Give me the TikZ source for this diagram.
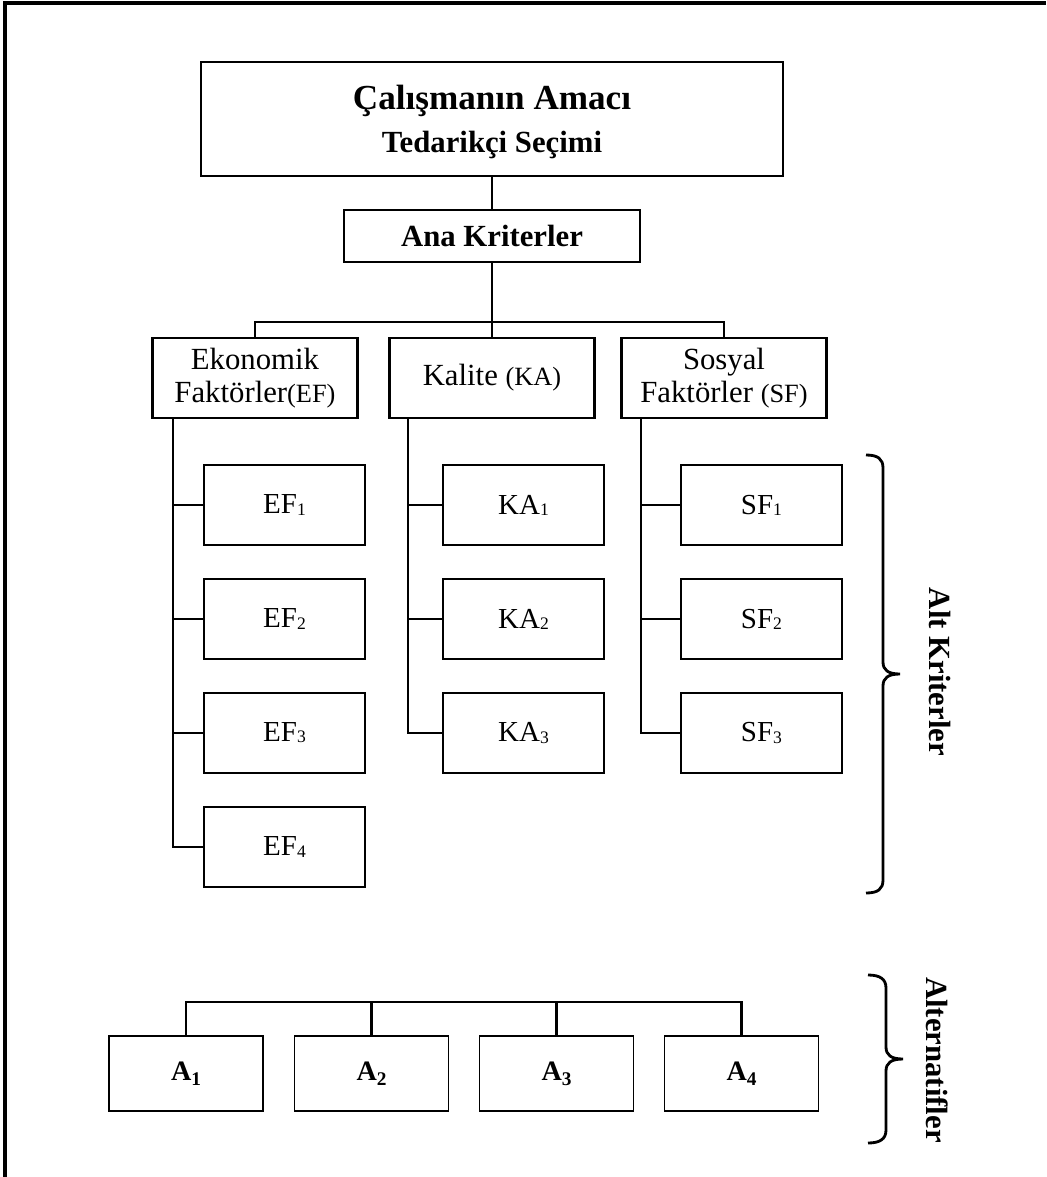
\documentclass[tikz,border=0pt]{standalone}
\usepackage{fontspec}
\setmainfont{Liberation Serif}
\usetikzlibrary{calc}

% kleine indisler
\newcommand{\lowidx}[1]{\raisebox{-0.6pt}{\fontsize{10}{10}\selectfont #1}}
\newcommand{\altidx}[1]{\raisebox{-2.8pt}{\fontsize{11}{11}\selectfont\bfseries #1}}

\begin{document}
\begin{tikzpicture}[x=0.02cm, y=-0.02cm,
  box/.style={draw, line width=1.6pt, inner sep=0pt, align=center},
  critbox/.style={box, minimum width=4.1cm, minimum height=1.6cm,
    font=\fontsize{17.5}{19}\selectfont},
  subbox/.style={box, minimum width=3.22cm, minimum height=1.6cm,
    font=\fontsize{16.5}{16.5}\selectfont},
  altbox/.style={draw, line width=1.1pt, inner sep=0pt,
    minimum width=3.08cm, minimum height=1.5cm,
    font=\fontsize{16}{16}\selectfont\bfseries},
  link/.style={line width=1.6pt},
  sidelabel/.style={rotate=-90, font=\fontsize{17.5}{17.5}\selectfont\bfseries}]

        \useasboundingbox (0,0) rectangle (1046,1177);

        % cerceve
        \draw [line width=2.3pt] (5,1177) -- (5,3) -- (1046,3);

        % amac ve ana kriterler
        \node[box, minimum width=11.64cm, minimum height=2.28cm] (goal) at (492,119) {};
        \node[font=\fontsize{20}{20}\selectfont\bfseries] (goaltitle) at (492,101) {Çalışmanın Amacı};
        \node[font=\fontsize{17.5}{17.5}\selectfont\bfseries] (goalsub) at (492,145) {Tedarikçi Seçimi};
        \node[box, minimum width=5.92cm, minimum height=1.04cm,
          font=\fontsize{17.5}{17.5}\selectfont\bfseries] (ana) at (492,236) {Ana Kriterler};
        \draw [link] (goal.south) -- (ana.north);

        % ana kriter kutulari
        \node[critbox] (ef) at (255,378) {Ekonomik\\Faktörler{\fontsize{15}{15}\selectfont(EF)}};
        \node[critbox] (ka) at (492,378) {Kalite {\fontsize{15}{15}\selectfont(KA)}};
        \node[critbox] (sf) at (724,378) {Sosyal\\Faktörler {\fontsize{15}{15}\selectfont(SF)}};
        \coordinate (mbus) at (492,322);
        \draw [link] (ana.south) -- (ka.north);
        \draw [link] (ef.north) |- (mbus) -| (sf.north);

        % alt kriterler
        \foreach \i/\y in {1/505,2/619,3/733,4/847}
        {
          \node[subbox] (ef\i) at (284.5,\y) {EF\lowidx{\i}};
        }
        \foreach \i/\y in {1/505,2/619,3/733}
        {
          \node[subbox] (ka\i) at (523.5,\y) {KA\lowidx{\i}};
          \node[subbox] (sf\i) at (761.5,\y) {SF\lowidx{\i}};
        }
        \coordinate (eftop) at (173,418);
        \coordinate (katop) at (408,418);
        \coordinate (sftop) at (641,418);
        \draw [link] (eftop) |- (ef4.west);
        \draw [link] (katop) |- (ka3.west);
        \draw [link] (sftop) |- (sf3.west);
        \foreach \i in {1,2,3}
        {
          \draw [link] (ef\i.west) -- (ef\i.west -| eftop);
          \draw [link] (ka\i.west) -- (ka\i.west -| katop);
          \draw [link] (sf\i.west) -- (sf\i.west -| sftop);
        }

        % alternatifler
        \foreach \i/\x in {1/186,2/371.5,3/556.5,4/741.5}
        {
          \node[altbox] (a\i) at (\x,1073.5) {A\altidx{\i}};
        }
        \coordinate (abus) at (463,1002);
        \draw [link] (a1.north) |- (abus) -| (a4.north);
        \foreach \i in {2,3}
        {
          \draw [link] (a\i.north) -- (a\i.north |- abus);
        }

        % parantezler ve etiketler
        \draw [link] (866,455) .. controls (878,455) and (883,459) .. (883,468) -- (883,662)
          .. controls (883,670) and (888,674) .. (900,674)
          .. controls (888,674) and (883,678) .. (883,686) -- (883,880)
          .. controls (883,889) and (878,893) .. (866,893);
        \node[sidelabel] (altk) at (940,672) {Alt Kriterler};

        \draw [link] (868,975) .. controls (880,975) and (886,979) .. (886,988) -- (886,1047)
          .. controls (886,1055) and (891,1059) .. (903,1059)
          .. controls (891,1059) and (886,1063) .. (886,1071) -- (886,1130)
          .. controls (886,1139) and (880,1143) .. (868,1143);
        \node[sidelabel] (altn) at (937,1060) {Alternatifler};

    \end{tikzpicture}
\end{document}
